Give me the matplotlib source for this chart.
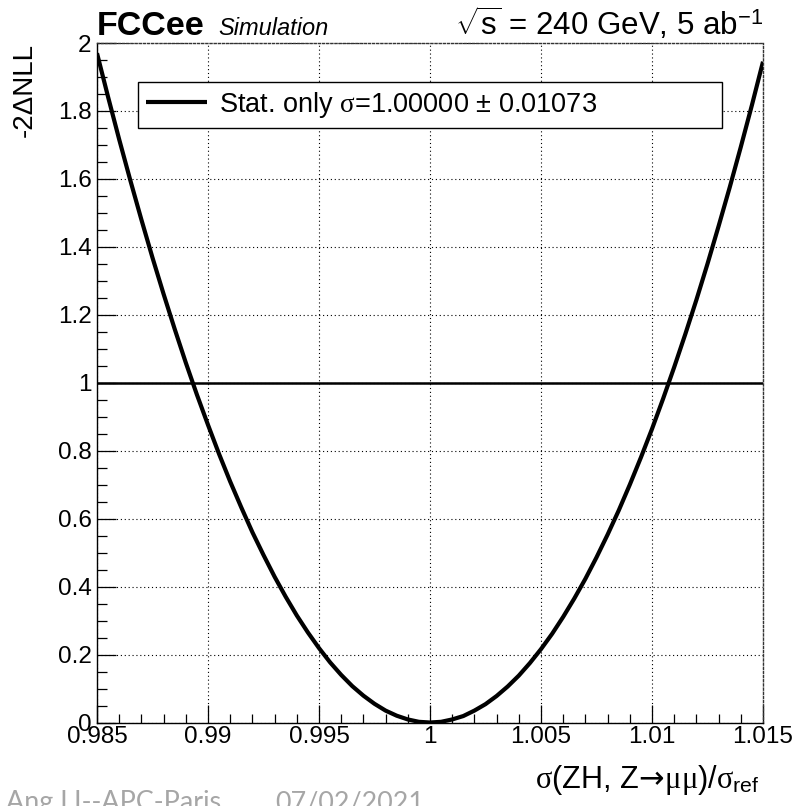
import matplotlib
matplotlib.use("Agg")
import matplotlib.pyplot as plt
from matplotlib.ticker import FixedLocator, MultipleLocator

plt.rcParams['font.family'] = ['Liberation Sans', 'DejaVu Sans']
plt.rcParams['mathtext.fontset'] = 'custom'
plt.rcParams['mathtext.rm'] = 'Liberation Sans'
plt.rcParams['mathtext.it'] = 'Liberation Serif'
plt.rcParams['mathtext.bf'] = 'Liberation Sans:bold'
plt.rcParams['mathtext.sf'] = 'DejaVu Sans'

# ---- data ----
mu_values = [0.9850, 0.9855, 0.9860, 0.9865, 0.9870, 0.9875, 0.9880, 0.9885,
             0.9890, 0.9895, 0.9900, 0.9905, 0.9910, 0.9915, 0.9920, 0.9925,
             0.9930, 0.9935, 0.9940, 0.9945, 0.9950, 0.9955, 0.9960, 0.9965,
             0.9970, 0.9975, 0.9980, 0.9985, 0.9990, 0.9995, 1.0000,
             1.0005, 1.0010, 1.0015, 1.0020, 1.0025, 1.0030, 1.0035, 1.0040,
             1.0045, 1.0050, 1.0055, 1.0060, 1.0065, 1.0070, 1.0075, 1.0080,
             1.0085, 1.0090, 1.0095, 1.0100, 1.0105, 1.0110, 1.0115, 1.0120,
             1.0125, 1.0130, 1.0135, 1.0140, 1.0145, 1.0150]
nll_values = [1.970, 1.841, 1.716, 1.596, 1.480, 1.368, 1.261, 1.158,
              1.059, 0.965, 0.876, 0.790, 0.709, 0.633, 0.560, 0.493,
              0.429, 0.370, 0.315, 0.265, 0.219, 0.177, 0.140, 0.107,
              0.079, 0.055, 0.035, 0.020, 0.009, 0.002, 0.000,
              0.002, 0.009, 0.019, 0.035, 0.054, 0.078, 0.106, 0.138,
              0.175, 0.216, 0.261, 0.311, 0.365, 0.423, 0.486, 0.553,
              0.624, 0.700, 0.780, 0.864, 0.953, 1.046, 1.143, 1.244,
              1.350, 1.461, 1.575, 1.694, 1.817, 1.945]
ref_level = 1.0
xticks = [0.985, 0.99, 0.995, 1.0, 1.005, 1.01, 1.015]
xtick_labels = ['0.985', '0.99', '0.995', '1', '1.005', '1.01', '1.015']
yticks = [0, 0.2, 0.4, 0.6, 0.8, 1.0, 1.2, 1.4, 1.6, 1.8, 2.0]
ytick_labels = ['0', '0.2', '0.4', '0.6', '0.8', '1', '1.2', '1.4', '1.6', '1.8', '2']
legend_label = r'Stat. only $\sigma$=1.00000 ± 0.01073'

W, H = 804, 806
fig = plt.figure(figsize=(W / 100, H / 100), dpi=100)
L, R, T, B = 97, 763, 43, 722.5
ax = fig.add_axes([L / W, 1 - B / H, (R - L) / W, (B - T) / H])

def fx(px):
    return px / W

def fy(py):
    return 1 - py / H

ax.plot(mu_values, nll_values, color='black', lw=3.0, label=legend_label,
        solid_joinstyle='round', solid_capstyle='butt', zorder=3)
ax.axhline(ref_level, color='black', lw=1.8, zorder=2)

ax.set_xlim(0.985, 1.015)
ax.set_ylim(0, 2)
ax.xaxis.set_major_locator(FixedLocator(xticks))
ax.set_xticklabels(xtick_labels)
ax.yaxis.set_major_locator(FixedLocator(yticks))
ax.set_yticklabels(ytick_labels)
ax.xaxis.set_minor_locator(MultipleLocator(0.001))
ax.yaxis.set_minor_locator(MultipleLocator(0.05))

ax.tick_params(axis='both', which='both', direction='in', top=False, right=False,
               labelsize=17.5, color='black', width=0.9)
ax.tick_params(axis='x', which='major', length=13, pad=2.5)
ax.tick_params(axis='x', which='minor', length=6.5)
ax.tick_params(axis='y', which='major', length=14, pad=4)
ax.tick_params(axis='y', which='minor', length=7)

ax.grid(True, which='major', color='black', lw=0.8, linestyle=(0, (1, 2.5)))
ax.set_axisbelow(True)

for s in ['left', 'bottom']:
    ax.spines[s].set_linewidth(1.0)
    ax.spines[s].set_color('black')
for s in ['top', 'right']:
    ax.spines[s].set_linewidth(1.0)
    ax.spines[s].set_color('#333333')
    ax.spines[s].set_linestyle((0, (1.5, 1.5)))

# legend box
lx0, ly0, lx1, ly1 = 138, 80, 722, 128
leg = fig.legend(loc='lower left',
                 bbox_to_anchor=(fx(lx0), fy(ly1), fx(lx1) - fx(lx0), fy(ly0) - fy(ly1)),
                 mode='expand', fontsize=19.5, frameon=True, fancybox=False,
                 shadow=False, handlelength=2.25, handletextpad=0.45,
                 borderpad=0.3, borderaxespad=0, framealpha=1)
leg.get_frame().set_edgecolor('black')
leg.get_frame().set_linewidth(1.0)

# header texts
fig.text(fx(97), fy(35), 'FCCee', weight='bold', size=24.5, va='baseline', ha='left')
fig.text(fx(218), fy(35), 'Simulation', style='italic', size=17, va='baseline', ha='left')
fig.text(fx(763), fy(35), r'$\sqrt{\mathrm{s}}$ = 240 GeV, 5 ab$^{-1}$', size=22.5,
         va='baseline', ha='right')

# axis titles
fig.text(fx(25), fy(43), '-2ΔNLL', rotation=90, size=20, ha='center', va='top')
fig.text(fx(760), fy(788),
         r'$\sigma$(ZH, Z$\!\mathsf{\rightarrow}\!\mu\mu$)/$\sigma_{\mathrm{ref}}$',
         size=22, ha='right', va='baseline')

# footer
fig.text(fx(6), fy(810), 'Ang LI--APC-Paris', family=['Lato', 'DejaVu Sans'],
         size=19.4, color='#A6A6A6', ha='left', va='baseline')
fig.text(fx(275), fy(810), '07/02/2021', family=['Lato', 'DejaVu Sans'],
         size=19.4, color='#A6A6A6', ha='left', va='baseline')

fig.savefig('out.png', dpi=100)
